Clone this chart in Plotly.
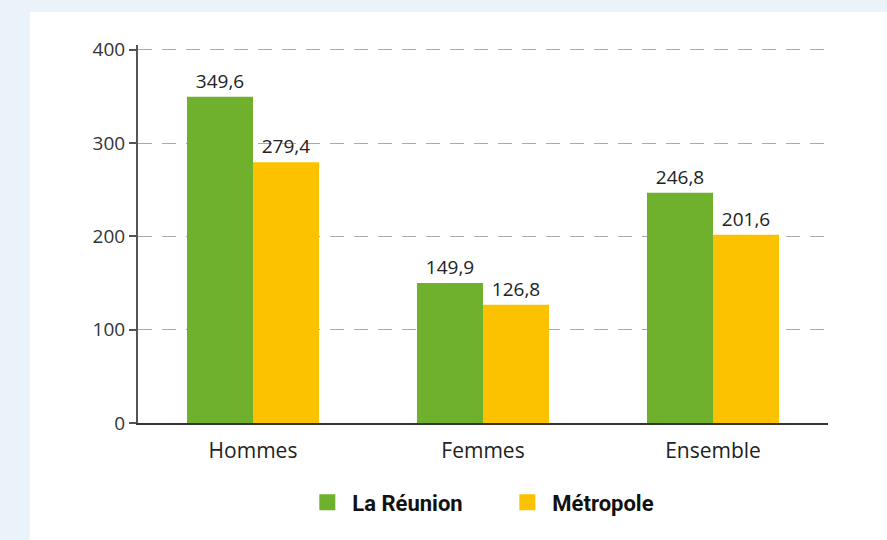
import plotly.graph_objects as go

categories = ["Hommes", "Femmes", "Ensemble"]
reunion = [349.6, 149.9, 246.8]
metropole = [279.4, 126.8, 201.6]
y_ticks = [0, 100, 200, 300, 400]

GREEN = "#6fb02c"
YELLOW = "#fcc200"

fig = go.Figure()

fig.add_trace(go.Bar(
    x=categories, y=reunion, name="La Réunion",
    marker=dict(color=GREEN, line=dict(width=0)),
    texttemplate="%{y:.1f}", textposition="outside",
    textfont=dict(size=19, color="#222"),
    cliponaxis=False, showlegend=False,
))
fig.add_trace(go.Bar(
    x=categories, y=metropole, name="Métropole",
    marker=dict(color=YELLOW, line=dict(width=0)),
    texttemplate="%{y:.1f}", textposition="outside",
    textfont=dict(size=19, color="#222"),
    cliponaxis=False, showlegend=False,
))

# bigger square legend keys
for name, col in [("La Réunion", GREEN), ("Métropole", YELLOW)]:
    fig.add_trace(go.Scatter(
        x=[None], y=[None], mode="markers", name=name,
        marker=dict(symbol="square", size=20, color=col),
    ))

# white card on light blue page
fig.add_shape(type="rect", xref="paper", yref="paper", layer="below",
              x0=(30 - 138) / 690, x1=1.2, y0=-0.5, y1=(423 - 12) / 378,
              fillcolor="white", line=dict(width=0))

fig.update_layout(
    width=887, height=540,
    margin=dict(l=138, r=59, t=45, b=117),
    paper_bgcolor="#eaf2fa",
    plot_bgcolor="rgba(0,0,0,0)",
    separators=", ",
    barmode="group",
    bargap=0.426,
    bargroupgap=0,
    font=dict(family="Open Sans, DejaVu Sans, sans-serif", color="#333"),
    xaxis=dict(
        showline=True, linecolor="#333", linewidth=1.5,
        tickfont=dict(size=21, color="#222"),
        ticks="", showgrid=False, ticklabelstandoff=8,
    ),
    yaxis=dict(
        range=[0, 405], tickvals=y_ticks,
        showline=True, linecolor="#555", linewidth=2,
        ticks="outside", ticklen=7, tickcolor="#555", tickwidth=1.5,
        tickfont=dict(size=19, color="#333"),
        showgrid=True, gridcolor="#aaaaaa", griddash="14px,10px", gridwidth=1.2,
        zeroline=False,
    ),
    legend=dict(
        orientation="h", x=0.528, xanchor="center", y=-0.21, yanchor="middle",
        font=dict(family="Roboto, sans-serif",
                  size=22, color="#111", weight="bold"),
        itemwidth=40, entrywidth=145,
        bgcolor="rgba(0,0,0,0)",
    ),
)

fig.write_html("out.html", config={"displayModeBar": False},
               post_script="document.body.style.margin='0';")
